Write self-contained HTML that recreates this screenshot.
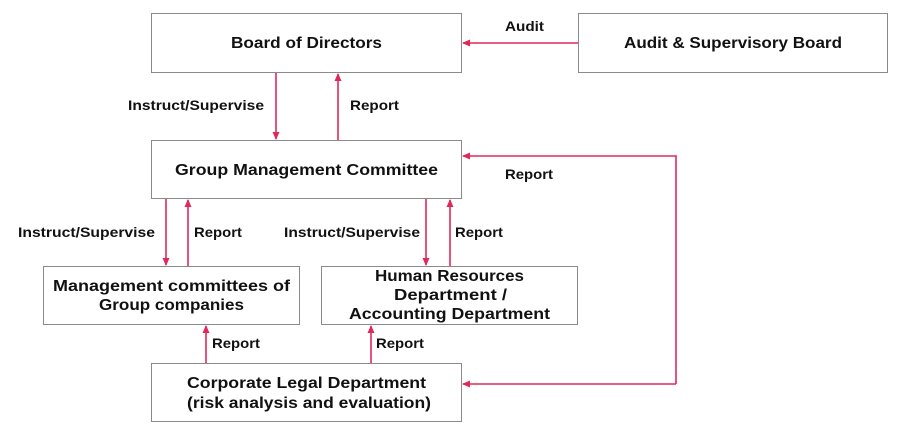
<!DOCTYPE html>
<html><head><meta charset="utf-8"><style>
html,body{margin:0;padding:0;background:#fff;}
svg{display:block;}
text{font-family:"Liberation Sans",sans-serif;font-weight:bold;fill:#111;}
</style></head><body>
<svg width="900" height="441" viewBox="0 0 900 441" xmlns="http://www.w3.org/2000/svg">
<defs>
<marker id="a" markerWidth="8" markerHeight="8" refX="7" refY="4" orient="auto" markerUnits="userSpaceOnUse">
<path d="M0,0.5 L8,4 L0,7.5 Z" fill="#e0285a"/>
</marker>
</defs>
<g fill="#fff" stroke="#8a8a8a" stroke-width="1">
<rect x="151.5" y="13.5" width="310" height="59"/>
<rect x="578.5" y="13.5" width="309" height="59"/>
<rect x="151.5" y="140.5" width="310" height="58"/>
<rect x="43.5" y="266.5" width="256" height="58"/>
<rect x="321.5" y="266.5" width="256" height="58"/>
<rect x="151.5" y="363.5" width="310" height="58"/>
</g>
<g stroke="#e0285a" stroke-width="1.6" fill="none" marker-end="url(#a)">
<line x1="578" y1="43" x2="463" y2="43"/>
<line x1="276" y1="73" x2="276" y2="139"/>
<line x1="338" y1="140" x2="338" y2="74"/>
<line x1="166" y1="199" x2="166" y2="265"/>
<line x1="188" y1="266" x2="188" y2="200"/>
<line x1="426" y1="199" x2="426" y2="265"/>
<line x1="450" y1="266" x2="450" y2="200"/>
<line x1="206" y1="363" x2="206" y2="326"/>
<line x1="371" y1="363" x2="371" y2="326"/>
<polyline points="676,384 676,156 463,156"/>
<line x1="676" y1="384" x2="463" y2="384"/>
</g>
<g font-size="16" lengthAdjust="spacingAndGlyphs">
<text x="231" y="48" textLength="151" lengthAdjust="spacingAndGlyphs">Board of Directors</text>
<text x="624" y="48" textLength="218" lengthAdjust="spacingAndGlyphs">Audit &amp; Supervisory Board</text>
<text x="175" y="175" textLength="263" lengthAdjust="spacingAndGlyphs">Group Management Committee</text>
<text x="53" y="291" textLength="237" lengthAdjust="spacingAndGlyphs">Management committees of</text>
<text x="99" y="310" textLength="145" lengthAdjust="spacingAndGlyphs">Group companies</text>
<text x="375" y="281" textLength="149" lengthAdjust="spacingAndGlyphs">Human Resources</text>
<text x="394" y="300" textLength="113" lengthAdjust="spacingAndGlyphs">Department /</text>
<text x="349" y="319" textLength="201" lengthAdjust="spacingAndGlyphs">Accounting Department</text>
<text x="187" y="388" textLength="239" lengthAdjust="spacingAndGlyphs">Corporate Legal Department</text>
<text x="187" y="408" textLength="244" lengthAdjust="spacingAndGlyphs">(risk analysis and evaluation)</text>
</g>
<g font-size="14">
<text x="505" y="31" textLength="39" lengthAdjust="spacingAndGlyphs">Audit</text>
<text x="128" y="110" textLength="136" lengthAdjust="spacingAndGlyphs">Instruct/Supervise</text>
<text x="350" y="110" textLength="49" lengthAdjust="spacingAndGlyphs">Report</text>
<text x="18" y="237" textLength="137" lengthAdjust="spacingAndGlyphs">Instruct/Supervise</text>
<text x="194" y="237" textLength="48" lengthAdjust="spacingAndGlyphs">Report</text>
<text x="284" y="237" textLength="136" lengthAdjust="spacingAndGlyphs">Instruct/Supervise</text>
<text x="455" y="237" textLength="48" lengthAdjust="spacingAndGlyphs">Report</text>
<text x="505" y="179" textLength="48" lengthAdjust="spacingAndGlyphs">Report</text>
<text x="212" y="348" textLength="48" lengthAdjust="spacingAndGlyphs">Report</text>
<text x="376" y="348" textLength="48" lengthAdjust="spacingAndGlyphs">Report</text>
</g>
</svg>
</body></html>
